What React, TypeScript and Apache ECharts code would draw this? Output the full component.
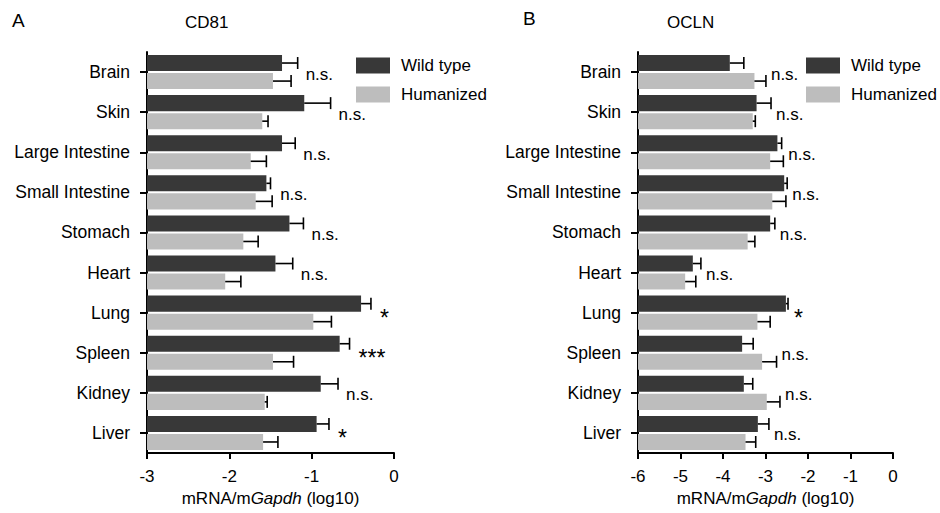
import React, { useEffect, useRef } from "react";
import * as echarts from "echarts";

const categories = ["Brain", "Skin", "Large Intestine", "Small Intestine", "Stomach", "Heart", "Lung", "Spleen", "Kidney", "Liver"];

const cd81WT = [-1.36, -1.09, -1.36, -1.55, -1.27, -1.44, -0.4, -0.66, -0.89, -0.94];
const cd81WTErr = [0.19, 0.32, 0.16, 0.05, 0.17, 0.21, 0.12, 0.12, 0.21, 0.15];
const cd81Hu = [-1.47, -1.6, -1.74, -1.68, -1.83, -2.05, -0.98, -1.47, -1.57, -1.59];
const cd81HuErr = [0.22, 0.07, 0.19, 0.2, 0.18, 0.19, 0.22, 0.25, 0.03, 0.18];
const cd81Sig = ["n.s.", "n.s.", "n.s.", "n.s.", "n.s.", "n.s.", "*", "***", "n.s.", "*"];

const oclnWT = [-3.84, -3.21, -2.72, -2.56, -2.89, -4.71, -2.52, -3.55, -3.51, -3.18];
const oclnWTErr = [0.33, 0.34, 0.1, 0.07, 0.11, 0.19, 0.05, 0.26, 0.21, 0.26];
const oclnHu = [-3.26, -3.3, -2.89, -2.84, -3.42, -4.89, -3.19, -3.08, -2.97, -3.47];
const oclnHuErr = [0.27, 0.06, 0.31, 0.32, 0.17, 0.25, 0.3, 0.34, 0.31, 0.24];
const oclnSig = ["n.s.", "n.s.", "n.s.", "n.s.", "n.s.", "n.s.", "*", "n.s.", "n.s.", "n.s."];

const cd81Axis = { min: -3, max: 0, interval: 1 };
const oclnAxis = { min: -6, max: 0, interval: 1 };
const legendNames = ["Wild type", "Humanized"];
const axisTitle = "mRNA/m{i|Gapdh} (log10)";

const FONT = '"Liberation Sans", Arial, Helvetica, sans-serif';
const DARK = "#383838";
const LIGHT = "#bdbdbd";

function barSeries(name: string, idx: number, vals: number[], errs: number[], color: string, sign: number, min: number) {
  return {
    type: "custom",
    name,
    xAxisIndex: idx,
    yAxisIndex: idx,
    itemStyle: { color },
    encode: { x: 1, y: 0 },
    data: vals.map((v, i) => [i, v, errs[i]]),
    renderItem: (params: any, api: any) => {
      const cat = api.value(0);
      const v = api.value(1);
      const e = api.value(2);
      const band = api.size([0, 1])[1];
      const h = band * 0.4;
      const c = api.coord([v, cat]);
      const base = api.coord([min, cat]);
      const tip = api.coord([v + e, cat]);
      const cy = c[1] + sign * band * 0.225;
      return {
        type: "group",
        children: [
          { type: "rect", shape: { x: base[0], y: cy - h / 2, width: c[0] - base[0], height: h }, style: { fill: color } },
          { type: "line", shape: { x1: c[0], y1: cy, x2: tip[0], y2: cy }, style: { stroke: "#000", lineWidth: 1.6 } },
          { type: "line", shape: { x1: tip[0], y1: cy - 6, x2: tip[0], y2: cy + 6 }, style: { stroke: "#000", lineWidth: 1.6 } },
        ],
      };
    },
  };
}

function sigSeries(idx: number, wt: number[], wtE: number[], hu: number[], huE: number[], sig: string[], dx: number) {
  return {
    type: "custom",
    name: "sig" + idx,
    xAxisIndex: idx,
    yAxisIndex: idx,
    encode: { x: 1, y: 0 },
    data: wt.map((v, i) => [i, Math.max(v + wtE[i], hu[i] + huE[i])]),
    renderItem: (params: any, api: any) => {
      const p = api.coord([api.value(1), api.value(0)]);
      const t = sig[params.dataIndex];
      const star = t.indexOf("*") >= 0;
      return {
        type: "text",
        x: p[0] + dx + (star ? 1 : 0),
        y: p[1] + (star ? 5 : 2),
        style: {
          text: t,
          fill: "#000",
          fontSize: star ? 23 : 17,
          fontFamily: FONT,
          align: "left",
          verticalAlign: "middle",
        },
      };
    },
  };
}

function xAxisCfg(idx: number, ax: { min: number; max: number; interval: number }) {
  return {
    gridIndex: idx,
    type: "value",
    min: ax.min,
    max: ax.max,
    interval: ax.interval,
    axisLine: { show: true, onZero: false, lineStyle: { color: "#000", width: 2 } },
    axisTick: { show: true, length: 6, lineStyle: { color: "#000", width: 2 } },
    axisLabel: { color: "#000", fontSize: 17, fontFamily: FONT, margin: 15 },
    splitLine: { show: false },
    name: axisTitle,
    nameLocation: "middle",
    nameGap: 31,
    nameTextStyle: {
      color: "#000",
      fontSize: 17,
      fontFamily: FONT,
      rich: { i: { fontStyle: "italic", fontSize: 17, color: "#000", fontFamily: FONT } },
    },
  };
}

function yAxisCfg(idx: number) {
  return {
    gridIndex: idx,
    type: "category",
    position: "left",
    data: categories,
    inverse: true,
    axisLine: { show: true, onZero: false, lineStyle: { color: "#000", width: 2 } },
    axisTick: { show: true, alignWithLabel: true, length: 7, lineStyle: { color: "#000", width: 2 } },
    axisLabel: { color: "#000", fontSize: 17.5, fontFamily: FONT, margin: 17 },
    splitLine: { show: false },
  };
}

function legendCfg(left: number) {
  return {
    data: legendNames,
    orient: "vertical",
    left,
    top: 57,
    padding: 0,
    itemWidth: 34,
    itemHeight: 16,
    itemGap: 12,
    icon: "rect",
    selectedMode: false,
    textStyle: { fontSize: 17, color: "#000", fontFamily: FONT, padding: [0, 0, 0, 6] },
  };
}

export default function App() {
  const ref = useRef<HTMLDivElement>(null);
  useEffect(() => {
    if (!ref.current) return;
    const chart = echarts.init(ref.current, undefined, { renderer: "svg" });
    const tStyle = (size: number) => ({ fontSize: size, fontWeight: "normal", color: "#000", fontFamily: FONT });
    chart.setOption({
      animation: false,
      backgroundColor: "#fff",
      title: [
        { text: "A", left: 12, top: 11, padding: 0, textStyle: tStyle(19) },
        { text: "CD81", left: 185, top: 14, padding: 0, textStyle: tStyle(17) },
        { text: "B", left: 523, top: 9, padding: 0, textStyle: tStyle(19) },
        { text: "OCLN", left: 667, top: 14, padding: 0, textStyle: tStyle(17) },
      ],
      legend: [legendCfg(356), legendCfg(806)],
      grid: [
        { left: 147, top: 52, width: 247, height: 401, containLabel: false },
        { left: 638, top: 52, width: 255, height: 401, containLabel: false },
      ],
      xAxis: [xAxisCfg(0, cd81Axis), xAxisCfg(1, oclnAxis)],
      yAxis: [yAxisCfg(0), yAxisCfg(1)],
      series: [
        barSeries(legendNames[0], 0, cd81WT, cd81WTErr, DARK, -1, cd81Axis.min),
        barSeries(legendNames[1], 0, cd81Hu, cd81HuErr, LIGHT, 1, cd81Axis.min),
        sigSeries(0, cd81WT, cd81WTErr, cd81Hu, cd81HuErr, cd81Sig, 8),
        barSeries(legendNames[0], 1, oclnWT, oclnWTErr, DARK, -1, oclnAxis.min),
        barSeries(legendNames[1], 1, oclnHu, oclnHuErr, LIGHT, 1, oclnAxis.min),
        sigSeries(1, oclnWT, oclnWTErr, oclnHu, oclnHuErr, oclnSig, 5),
      ],
    });
    return () => chart.dispose();
  }, []);
  return <div ref={ref} style={{ position: "absolute", left: 0, top: 0, width: 940, height: 513 }} />;
}
